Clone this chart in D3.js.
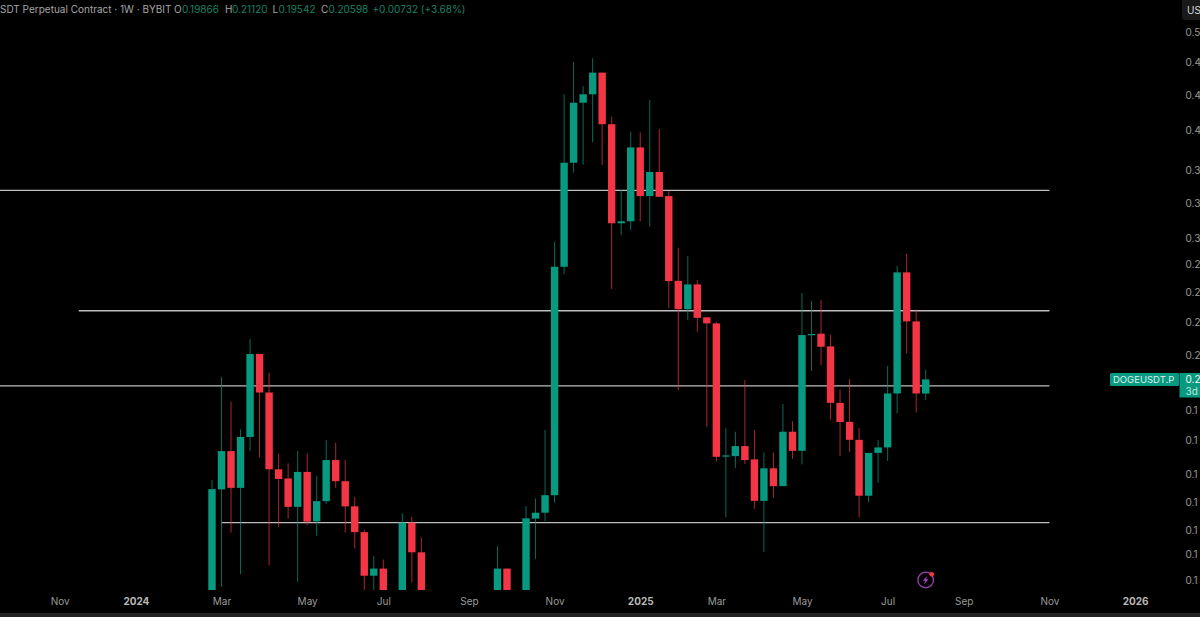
<!DOCTYPE html>
<html>
<head>
<meta charset="utf-8">
<script src="https://cdn.jsdelivr.net/npm/d3@7/dist/d3.min.js"></script>
<style>
  html, body { margin: 0; padding: 0; background: #000; overflow: hidden; }
  svg { display: block; font-family: Inter, "Noto Sans", sans-serif; }
</style>
</head>
<body>
<div id="canvas"></div>
<script>
// weekly candles, one entry per week from firstWeek. null = week is below the visible range
var firstWeek = '2024-02-26';
var lastWeek = '2025-08-04';

var opens = [
  .1130, .1555, .1715, .1561, .1778, .2198, .1992, .1637, .1599, .1487,
  .1626, .1433, .1509, .1676, .1588, .1489, .1394, .1247, .1270, null,
  .1170, .1428, .1324, null, null, null, null, null, null, null,
  .1150, .1270, null, .1170, .1443, .1465, .1532, .2747, .3584, .4178,
  .4269, .4512, .3955, .3070, .3086, .3727, .3291, .3500, .3291, .2650,
  .2465, .2626, .2414, .2377, .1693, .1693, .1737, .1679, .1510, .1641,
  .1568, .1802, .1716, .2307, .2315, .2241, .1940, .1848, .1765, .1530,
  .1707, .1731, .1987, .2708, .2389, .19866
];
var highs = [
  .1592, .2073, .1946, .1813, .2284, .2198, .2095, .1705, .1662, .1715,
  .1705, .1610, .1764, .1752, .1676, .1525, .1403, .1311, .1300, null,
  .1463, .1450, .1375, null, null, null, null, null, null, null,
  .1345, .1270, null, .1490, .1519, .1810, .2928, .4269, .4640, .4360,
  .4680, .4512, .4032, .3342, .3880, .3873, .4207, .3907, .3336, .2884,
  .2823, .2655, .2414, .2387, .1818, .1802, .2056, .1810, .1709, .1709,
  .1934, .1851, .2570, .2517, .2523, .2309, .2008, .2061, .1820, .1707,
  .1764, .2133, .2753, .2840, .2463, .21120
];
var lows = [
  .1100, .1212, .1392, .1252, .1715, .1688, .1281, .1413, .1443, .1228,
  .1419, .1381, .1498, .1561, .1392, .1337, .1195, .1195, .1150, null,
  .1140, .1226, .1150, null, null, null, null, null, null, null,
  .1120, .1130, null, .1150, .1302, .1434, .1503, .2696, .3494, .3565,
  .3776, .3563, .2595, .2979, .3017, .3086, .3043, .3283, .2473, .2004,
  .2397, .2327, .1825, .1669, .1448, .1643, .1659, .1480, .1325, .1522,
  .1568, .1681, .1658, .2105, .2135, .1860, .1693, .1710, .1448, .1505,
  .1582, .1672, .1888, .2201, .1893, .19542
];
var closes = [
  .1556, .1715, .1561, .1778, .2198, .1992, .1637, .1597, .1487, .1626,
  .1432, .1509, .1676, .1588, .1489, .1394, .1247, .1270, .1170, null,
  .1428, .1324, .1180, null, null, null, null, null, null, null,
  .1270, .1160, null, .1444, .1465, .1532, .2747, .3584, .4178, .4269,
  .4512, .3955, .3070, .3086, .3727, .3291, .3500, .3285, .2648, .2465,
  .2626, .2411, .2377, .1690, .1696, .1737, .1676, .1510, .1641, .1568,
  .1802, .1716, .2307, .2313, .2239, .1940, .1847, .1765, .1530, .1707,
  .1731, .1987, .2708, .2389, .1987, .20598
];

// horizontal levels drawn on the chart
var levelPrices = [.3340, .2455, .2026, .1428];
var levelStarts = ['2023-02-06', '2023-11-20', '2023-02-06', '2024-03-04'];
var levelEnd = '2025-11-03';

// axis ticks, the right edge of the picture cuts the price labels short
var priceTicks = [.5003, .4633, .4261, .3890, .3518, .3235, .2954, .2764, .2575, .2383, .2192, .1904, .1763, .1617, .1503, .1401, .1317, .1233];
var priceLabels = ['0.5', '0.4', '0.4', '0.4', '0.3', '0.3', '0.3', '0.2', '0.2', '0.2', '0.2', '0.1', '0.1', '0.1', '0.1', '0.1', '0.1', '0.1'];
var timeTicks = ['2023-11-06', '2024-01-01', '2024-03-04', '2024-05-06', '2024-07-01', '2024-09-02', '2024-11-04', '2025-01-06', '2025-03-03', '2025-05-05', '2025-07-07', '2025-09-01', '2025-11-03', '2026-01-05'];
var timeLabels = ['Nov', '2024', 'Mar', 'May', 'Jul', 'Sep', 'Nov', '2025', 'Mar', 'May', 'Jul', 'Sep', 'Nov', '2026'];

var GREEN = '#089981', RED = '#f23645';

var svg = d3.select('#canvas').append('svg')
  .attr('width', 1200)
  .attr('height', 617);

svg.append('rect').attr('width', 1200).attr('height', 617).attr('fill', '#000');
svg.append('rect').attr('y', 613).attr('width', 1200).attr('height', 4).attr('fill', '#222');

var parse = d3.utcParse('%Y-%m-%d');

var x = d3.scaleUtc()
  .domain([parse(firstWeek), parse(lastWeek)])
  .range([212, 925.7]);

var y = d3.scaleLog()
  .domain([.1172, .4781])
  .range([600, 50]);

// candles get cut at the bottom of the pane
svg.append('clipPath').attr('id', 'pane')
  .append('rect').attr('width', 1180).attr('height', 590);

var candles = opens.map(function (o, i) {
  return {
    date: d3.utcMonday.offset(parse(firstWeek), i),
    o: o, h: highs[i], l: lows[i], c: closes[i]
  };
}).filter(function (d) { return d.o !== null; });

var pane = svg.append('g').attr('clip-path', 'url(#pane)');

// levels
pane.selectAll('line.level')
  .data(levelPrices)
  .enter().append('line')
  .attr('class', 'level')
  .attr('x1', function (d, i) { return x(parse(levelStarts[i])); })
  .attr('x2', x(parse(levelEnd)))
  .attr('y1', function (d) { return y(d); })
  .attr('y2', function (d) { return y(d); })
  .attr('stroke', '#bdbdbd')
  .attr('stroke-width', 1.3);

var colour = function (d) { return d.c >= d.o ? GREEN : RED; };

// wicks
pane.selectAll('line.wick')
  .data(candles)
  .enter().append('line')
  .attr('class', 'wick')
  .attr('x1', function (d) { return x(d.date); })
  .attr('x2', function (d) { return x(d.date); })
  .attr('y1', function (d) { return y(d.h); })
  .attr('y2', function (d) { return y(d.l); })
  .attr('stroke', colour)
  .attr('stroke-opacity', 0.7)
  .attr('stroke-width', 1);

// bodies
pane.selectAll('rect.body')
  .data(candles)
  .enter().append('rect')
  .attr('class', 'body')
  .attr('x', function (d) { return x(d.date) - 3.7; })
  .attr('width', 7.4)
  .attr('y', function (d) { return y(Math.max(d.o, d.c)); })
  .attr('height', function (d) { return Math.max(1.2, Math.abs(y(d.o) - y(d.c))); })
  .attr('fill', colour);

// time axis
var xAxis = d3.axisBottom(x)
  .tickValues(timeTicks.map(parse))
  .tickSize(0)
  .tickFormat(function (d, i) { return timeLabels[i]; });

var xg = svg.append('g').attr('transform', 'translate(0,595)').call(xAxis);
xg.select('.domain').remove();
xg.selectAll('text')
  .attr('font-size', 10)
  .attr('font-family', 'Inter')
  .attr('fill', function (d, i) { return /^20/.test(timeLabels[i]) ? '#b8b8b8' : '#9a9a9a'; })
  .attr('font-weight', function (d, i) { return /^20/.test(timeLabels[i]) ? 700 : 400; });

// price axis
var yAxis = d3.axisRight(y)
  .tickValues(priceTicks)
  .tickSize(0)
  .tickFormat(function (d, i) { return priceLabels[i]; });

var yg = svg.append('g').attr('transform', 'translate(1185.5,0)').call(yAxis);
yg.select('.domain').remove();
yg.selectAll('text')
  .attr('x', 0)
  .attr('font-size', 10)
  .attr('font-family', 'Inter')
  .attr('fill', '#9a9a9a');

// scale button at the top of the axis
svg.append('rect').attr('x', 1182).attr('y', -4).attr('width', 24).attr('height', 24).attr('rx', 3).attr('fill', '#191919');
svg.append('text').attr('x', 1187).attr('y', 14).attr('font-size', 10).attr('fill', '#d8d8d8').text('US');

// header line
var head = svg.append('text').attr('y', 12.5).attr('font-size', 10).attr('font-family', 'Inter');
var headParts = [
  [0, 'SDT Perpetual Contract · 1W · BYBIT', '#a6a6a6'],
  [174, 'O', '#a6a6a6'], [182, '0.19866', '#178066'],
  [225, 'H', '#a6a6a6'], [232, '0.21120', '#178066'],
  [272.5, 'L', '#a6a6a6'], [278.5, '0.19542', '#178066'],
  [321, 'C', '#a6a6a6'], [328.5, '0.20598', '#178066'],
  [372.5, '+0.00732 (+3.68%)', '#178066']
];
headParts.forEach(function (p) {
  head.append('tspan').attr('x', p[0]).attr('fill', p[2]).text(p[1]);
});

// symbol tag and last price
svg.append('rect').attr('x', 1110).attr('y', 373).attr('width', 69).attr('height', 13).attr('rx', 1.5).attr('fill', GREEN);
svg.append('text').attr('x', 1113).attr('y', 383).attr('font-size', 9.5).attr('fill', '#dff3ee').text('DOGEUSDT.P');
svg.append('rect').attr('x', 1179.5).attr('y', 373).attr('width', 21).attr('height', 24.5).attr('fill', GREEN);
svg.append('text').attr('x', 1185.5).attr('y', 383).attr('font-size', 10).attr('fill', '#f2fbf8').text('0.2');
svg.append('text').attr('x', 1185.5).attr('y', 394.5).attr('font-size', 10).attr('fill', '#bfe6dc').text('3d');

// lightning badge
var badge = svg.append('g').attr('transform', 'translate(925.7,580)');
badge.append('circle').attr('r', 7.8).attr('fill', 'none').attr('stroke', '#9c3fb0').attr('stroke-width', 1.3);
badge.append('path').attr('d', 'M1.8,-4.2 L-3,0.8 L-0.4,0.8 L-1.8,4.2 L3,-0.8 L0.4,-0.8 Z').attr('fill', '#a43fc0');
badge.append('circle').attr('cx', 6).attr('cy', -5.7).attr('r', 2.4).attr('fill', '#f23645');
</script>
</body>
</html>
